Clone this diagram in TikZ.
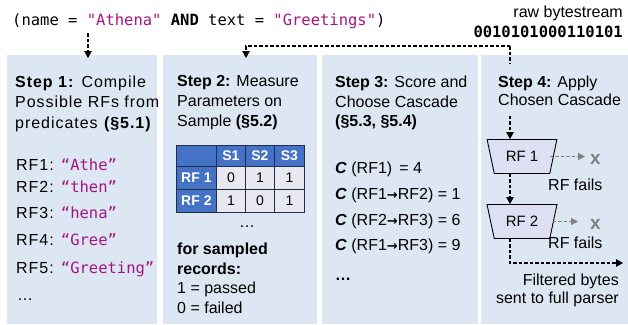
\documentclass[tikz,border=0pt]{standalone}
\usepackage{fontspec}
\setmainfont{Liberation Sans}
\setmonofont{DejaVu Sans Mono}
\newfontfamily\spacedfont{Liberation Sans}[LetterSpace=6]
\newfontfamily\arrowfont{DejaVu Sans}
\usetikzlibrary{shapes.geometric,arrows.meta,calc}
\definecolor{panelbg}{RGB}{221,231,243}
\definecolor{mag}{RGB}{163,21,128}
\definecolor{tblue}{RGB}{68,114,196}
\definecolor{cellgray}{RGB}{232,233,240}
\definecolor{tline}{RGB}{35,45,75}
\definecolor{trapfill}{RGB}{220,224,242}
\definecolor{garrow}{RGB}{128,128,128}
\newcommand{\rarr}{{\arrowfont\bfseries\fontsize{13}{16}\selectfont →}}
\begin{document}
\begin{tikzpicture}[x=1pt,y=-1pt,
  panel/.style={fill=panelbg, draw=none, inner sep=0, anchor=north west, minimum height=269pt},
  txt/.style={anchor=base west, inner sep=0, font=\fontsize{16}{20}\selectfont},
  stxt/.style={anchor=base west, inner sep=0, font=\spacedfont\fontsize{16}{20}\selectfont},
  txte/.style={anchor=base east, inner sep=0, font=\fontsize{16}{20}\selectfont},
  codef/.style={font=\fontsize{15.5}{18}\ttfamily},
  arr/.style={-{Triangle[length=7pt,width=7.5pt]}, line width=1.1pt, dash pattern=on 3.5pt off 2pt},
  dline/.style={line width=1.1pt, dash pattern=on 3.5pt off 2pt},
  garr/.style={-{Triangle[length=7pt,width=7pt]}, draw=garrow, line width=1.1pt, dash pattern=on 3.5pt off 2pt},
  xmark/.style={anchor=base west, inner sep=0, text=garrow, font=\fontsize{19}{20}\selectfont\bfseries},
  trap/.style={trapezium, trapezium stretches=true, shape border rotate=180, trapezium angle=68,
    minimum width=70pt, minimum height=34pt, draw=black, line width=0.9pt, fill=trapfill,
    inner sep=0, font=\fontsize{15}{18}\selectfont},
  cell/.style={draw=tline, line width=0.8pt, inner sep=0, anchor=north west,
    font=\fontsize{14}{16}\selectfont},
  hcell/.style={cell, fill=tblue, text=white, font=\fontsize{14}{16}\selectfont\bfseries},
  dcell/.style={cell, fill=cellgray}
]
\useasboundingbox (0,0) rectangle (628,324);

% panels
\node[panel, minimum width=150pt] (p1) at (7,55) {};
\node[panel, minimum width=154pt] (p2) at (163,55) {};
\node[panel, minimum width=156pt] (p3) at (322,55) {};
\node[panel, minimum width=147pt] (p4) at (481,55) {};

% top texts
\node[anchor=base west, inner sep=0, codef] (q) at (12,25)
  {(name = \textcolor{mag}{"Athena"} \textbf{AND} text = \textcolor{mag}{"Greetings"})};
\node[txte] (raw) at (623,17) {raw bytestream};
\node[anchor=base east, inner sep=0, codef, font=\fontsize{15.5}{18}\ttfamily\bfseries] (bits) at (623,37) {0010101000110101};

% arrows from top
\coordinate (a1) at (88,33);
\draw[arr] (a1) -- ($(a1 |- p1.north)+(0,3)$);
\coordinate (split) at (510,46);
\draw[arr] (split) -| ($(p2.north west)+(83,3)$);

% panel 1
\node[stxt] (s1a) at (15,87) {\textbf{Step 1:} Compile};
\node[stxt] (s1b) at (15,107.5) {Possible RFs from};
\node[stxt] (s1c) at (15,128) {predicates \textbf{(§5.1)}};
\node[stxt] (rf1t) at (16,170) {RF1: \textcolor{mag}{\fontsize{15.5}{18}\ttfamily “Athe”}};
\node[stxt] (rf2t) at (16,192) {RF2: \textcolor{mag}{\fontsize{15.5}{18}\ttfamily “then”}};
\node[stxt] (rf3t) at (16,218) {RF3: \textcolor{mag}{\fontsize{15.5}{18}\ttfamily “hena”}};
\node[stxt] (rf4t) at (16,245) {RF4: \textcolor{mag}{\fontsize{15.5}{18}\ttfamily “Gree”}};
\node[stxt] (rf5t) at (16,273) {RF5: \textcolor{mag}{\fontsize{15.5}{18}\ttfamily “Greeting”}};
\node[txt] (dots1) at (17,300) {…};

% panel 2
\node[txt] (s2a) at (177,86) {\textbf{Step 2:} Measure};
\node[txt] (s2b) at (177,106.5) {Parameters on};
\node[txt] (s2c) at (177,126.5) {Sample \textbf{(§5.2)}};
% table
\node[hcell, minimum width=40pt, minimum height=21pt] (h0) at (176,145) {};
\node[hcell, minimum width=29pt, minimum height=21pt] (h1) at (216,145) {S1};
\node[hcell, minimum width=29pt, minimum height=21pt] (h2) at (245,145) {S2};
\node[hcell, minimum width=30pt, minimum height=21pt] (h3) at (274,145) {S3};
\node[hcell, minimum width=40pt, minimum height=23pt] (r1c0) at (176,166) {RF 1};
\node[dcell, minimum width=29pt, minimum height=23pt] (r1c1) at (216,166) {0};
\node[dcell, minimum width=29pt, minimum height=23pt] (r1c2) at (245,166) {1};
\node[dcell, minimum width=30pt, minimum height=23pt] (r1c3) at (274,166) {1};
\node[hcell, minimum width=40pt, minimum height=23pt] (r2c0) at (176,189) {RF 2};
\node[dcell, minimum width=29pt, minimum height=23pt] (r2c1) at (216,189) {1};
\node[dcell, minimum width=29pt, minimum height=23pt] (r2c2) at (245,189) {0};
\node[dcell, minimum width=30pt, minimum height=23pt] (r2c3) at (274,189) {1};
\node[anchor=base, inner sep=0, font=\fontsize{16}{20}\selectfont] (dots2) at (247,227) {…};
\node[txt] (fs1) at (177,254) {\textbf{for sampled}};
\node[txt] (fs2) at (177,274) {\textbf{records:}};
\node[txt] (fs3) at (177,293) {1 = passed};
\node[txt] (fs4) at (177,313) {0 = failed};

% panel 3
\node[txt] (s3a) at (335,87) {\textbf{Step 3:} Score and};
\node[txt] (s3b) at (335,107.5) {Choose Cascade};
\node[txt] (s3c) at (335,126.5) {\textbf{(§5.3, §5.4)}};
\node[txt] (c1) at (335,173) {\textbf{\textit{C}} (RF1) \,= 4};
\node[txt] (c2) at (335,199) {\textbf{\textit{C}} (RF1\rarr RF2) = 1};
\node[txt] (c3) at (335,225) {\textbf{\textit{C}} (RF2\rarr RF3) = 6};
\node[txt] (c4) at (335,250) {\textbf{\textit{C}} (RF1\rarr RF3) = 9};
\node[txt] (dots3) at (335,280) {\textbf{…}};

% panel 4
\node[txt] (s4a) at (498,87) {\textbf{Step 4:} Apply};
\node[txt] (s4b) at (498,105.5) {Chosen Cascade};
\coordinate (col) at (510,0);
\node[trap] (rf1) at (522,156.5) {RF 1};
\node[trap] (rf2) at (522,221.5) {RF 2};
\draw[dline] (split) -- ([yshift=12pt]split |- s4a.north);
\draw[arr] ([yshift=-10pt]split |- s4b.south) -- (rf1.north -| col);
\draw[arr] (rf1.south -| col) -- (rf2.north -| col);

\node[xmark] (x1) at (590,164) {x};
\node[xmark] (x2) at (590,229) {x};
\draw[garr, shorten >=5pt] ([xshift=-4pt]rf1.east) -- (rf1.east -| x1.west);
\draw[garr, shorten >=12pt] ([xshift=-1pt]rf2.east) -- (rf2.east -| x2.west);
\node[txt] (f1) at (548,190) {RF fails};
\node[txt] (f2) at (548,248) {RF fails};

\coordinate (endp) at (623,263);
\draw[arr] (rf2.south -| col) |- (endp);
\node[txte] (fb1) at (619,285) {Filtered bytes};
\node[txte] (fb2) at (619,303) {sent to full parser};
\end{tikzpicture}
\end{document}
